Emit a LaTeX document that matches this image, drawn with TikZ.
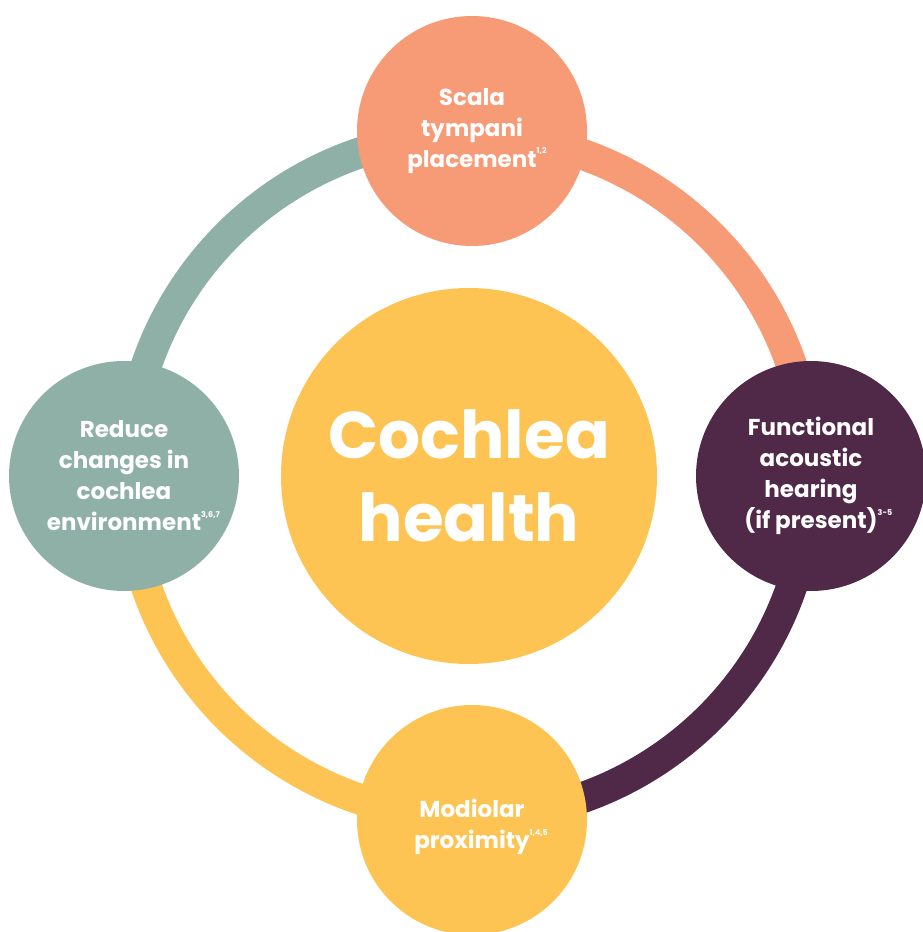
\documentclass[tikz,border=0pt]{standalone}
\usepackage{fontspec}
\setmainfont{Poppins}
\definecolor{salmon}{RGB}{247,155,118}
\definecolor{plum}{RGB}{80,40,72}
\definecolor{sage}{RGB}{143,176,166}
\definecolor{mustard}{RGB}{253,196,83}
\newcommand{\refmark}[1]{\rlap{\raisebox{1.05ex}{\fontsize{8}{8}\selectfont #1}}}
\tikzset{
  goal/.style={circle, minimum size=230, inner sep=0pt, text=white, align=center,
    font=\bfseries\fontsize{23}{31}\selectfont},
  ring/.style={line width=31, line cap=butt},
}
\begin{document}
\begin{tikzpicture}[x=1pt, y=1pt]
\useasboundingbox (0,0) rectangle (923,932);
\clip (0,0) rectangle (923,932);
\coordinate (hub) at (469,456);
% ring
\draw [ring, salmon] (hub) ++(90:341) arc[start angle=90, end angle=0, radius=341];
\draw [ring, plum] (hub) ++(0:341) arc[start angle=0, end angle=-90, radius=341];
\draw [ring, mustard] (hub) ++(-90:341) arc[start angle=-90, end angle=-180, radius=341];
\draw [ring, sage] (hub) ++(180:341) arc[start angle=180, end angle=90, radius=341];
% goals
\node [goal, fill=salmon] (scala) at (472,801) {Scala\\tympani\\placement\refmark{1,2}};
\node [goal, fill=plum] (hearing) at (811,456) {Functional\\acoustic\\hearing\\(if present)\refmark{3-5}};
\node [goal, fill=mustard, text height=64pt] (modiolar) at (472,112) {Modiolar\\proximity\refmark{1,4,5}};
\node [goal, fill=sage] (reduce) at (124,456) {Reduce\\changes in\\cochlea\\environment\refmark{3,6,7}};
% centre
\node [circle, fill=mustard, minimum size=376, inner sep=0pt, text=white, align=center,
  font=\bfseries\fontsize{66}{83}\selectfont] (health) at (hub) {Cochlea\\health};
\end{tikzpicture}
\end{document}
